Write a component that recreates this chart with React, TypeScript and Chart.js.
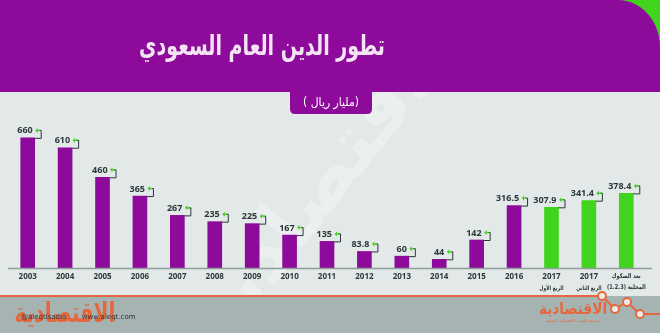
import React, { useEffect, useRef } from "react";
import { Chart, registerables } from "chart.js";

Chart.register(...registerables);

const categories: (string | string[])[] = [
  "2003", "2004", "2005", "2006", "2007", "2008", "2009", "2010", "2011",
  "2012", "2013", "2014", "2015", "2016",
  ["2017", "الربع الأول"],
  ["2017", "الربع الثاني"],
  ["بعد الصكوك", "المحلية (1.2.3)"],
];
const debtValues = [660, 610, 460, 365, 267, 235, 225, 167, 135, 83.8, 60, 44, 142, 316.5, 307.9, 341.4, 378.4];
const valueLabels = ["660", "610", "460", "365", "267", "235", "225", "167", "135", "83.8", "60", "44", "142", "316.5", "307.9", "341.4", "378.4"];
const isProjection = [false, false, false, false, false, false, false, false, false, false, false, false, false, false, true, true, true];

const titleText = "تطور الدين العام السعودي";
const unitText = "(مليار ريال )";
const logoText = "الاقتصادية";
const handleText = "@aleqtisadia       www.aleqt.com";
const logoSub = "صحيفة العرب الاقتصادية الدولية";

const PURPLE = "#8d0a9b";
const GREEN = "#41d41e";
const BG = "#e3e9e8";
const ORANGE = "#e6673b";
const DARK = "#2c3938";

function arabicText(ctx: CanvasRenderingContext2D, text: string, x: number, y: number, font: string, sx: number) {
  ctx.save();
  ctx.translate(x, y);
  ctx.scale(sx, 1);
  ctx.font = font;
  ctx.direction = "rtl";
  ctx.textAlign = "center";
  ctx.textBaseline = "middle";
  ctx.fillText(text, 0, 0);
  ctx.restore();
}

const backgroundPlugin = {
  id: "bgDecor",
  beforeDraw(chart: any) {
    const ctx = chart.ctx as CanvasRenderingContext2D;
    const W = chart.width;
    const H = chart.height;
    ctx.save();
    ctx.fillStyle = BG;
    ctx.fillRect(0, 0, W, H);

    // watermark
    ctx.save();
    ctx.translate(330, 180);
    ctx.rotate(-0.9);
    ctx.fillStyle = "rgba(255,255,255,0.3)";
    ctx.font = "bold 80px 'DejaVu Sans'";
    ctx.direction = "rtl";
    ctx.textAlign = "center";
    ctx.textBaseline = "middle";
    ctx.fillText(logoText, 0, 0);
    ctx.restore();

    // header
    ctx.fillStyle = GREEN;
    ctx.fillRect(600, 0, W - 600, 92);
    ctx.fillStyle = PURPLE;
    ctx.beginPath();
    ctx.moveTo(0, 0);
    ctx.lineTo(618, 0);
    ctx.bezierCurveTo(641, 0, W, 21, W, 47);
    ctx.lineTo(W, 92);
    ctx.lineTo(0, 92);
    ctx.closePath();
    ctx.fill();

    // pill
    ctx.beginPath();
    const px = 290, py = 90, pw = 82, ph = 24, r = 5;
    ctx.moveTo(px, py);
    ctx.lineTo(px + pw, py);
    ctx.lineTo(px + pw, py + ph - r);
    ctx.quadraticCurveTo(px + pw, py + ph, px + pw - r, py + ph);
    ctx.lineTo(px + r, py + ph);
    ctx.quadraticCurveTo(px, py + ph, px, py + ph - r);
    ctx.closePath();
    ctx.fill();

    ctx.fillStyle = "#f3e4f4";
    arabicText(ctx, titleText, 262, 48, "bold 28px 'DejaVu Sans'", 0.68);
    ctx.fillStyle = "#ffffff";
    arabicText(ctx, unitText, 331, 103, "12px 'DejaVu Sans'", 0.9);

    // footer
    ctx.fillStyle = "#a5b4b2";
    ctx.fillRect(0, 296, W, H - 296);
    ctx.strokeStyle = ORANGE;
    ctx.lineWidth = 2;
    ctx.beginPath();
    ctx.moveTo(0, 296);
    ctx.lineTo(602, 296);
    ctx.lineTo(615, 309);
    ctx.lineTo(627, 302);
    ctx.lineTo(640, 314);
    ctx.lineTo(W, 314);
    ctx.stroke();
    const pts = [[602, 296], [615, 309], [627, 302], [640, 314]];
    for (const [cx, cy] of pts) {
      ctx.beginPath();
      ctx.arc(cx, cy, 4, 0, Math.PI * 2);
      ctx.fillStyle = "#e9eceb";
      ctx.fill();
      ctx.stroke();
    }

    // left logo
    ctx.fillStyle = ORANGE;
    arabicText(ctx, logoText, 65, 315, "bold 28px 'DejaVu Sans'", 0.72);
    ctx.fillStyle = "#333";
    ctx.font = "7px 'DejaVu Sans'";
    ctx.textAlign = "left";
    ctx.textBaseline = "middle";
    ctx.fillText(handleText, 21, 317);

    // right logo
    ctx.fillStyle = ORANGE;
    arabicText(ctx, logoText, 573, 310, "bold 16px 'DejaVu Sans'", 0.85);
    arabicText(ctx, logoSub, 573, 321, "4px 'DejaVu Sans'", 1);
    ctx.restore();
  },
  afterDatasetsDraw(chart: any) {
    const ctx = chart.ctx as CanvasRenderingContext2D;
    const meta = chart.getDatasetMeta(0);
    const xScale = chart.scales.x;
    ctx.save();
    // axis line
    ctx.strokeStyle = "#8f9d9b";
    ctx.lineWidth = 1.5;
    ctx.beginPath();
    ctx.moveTo(8, xScale.top + 0.5);
    ctx.lineTo(652, xScale.top + 0.5);
    ctx.stroke();

    meta.data.forEach((bar: any, i: number) => {
      const right = bar.x + bar.width / 2;
      const top = bar.y;
      const ty = top - 7;
      ctx.fillStyle = DARK;
      ctx.font = "bold 9px 'Open Sans'";
      ctx.textAlign = "right";
      ctx.textBaseline = "middle";
      ctx.fillText(valueLabels[i], right - 2, ty);
      // dark bracket
      ctx.strokeStyle = DARK;
      ctx.lineWidth = 1;
      ctx.beginPath();
      ctx.moveTo(right + 4, ty - 0.5);
      ctx.lineTo(right + 6.5, ty - 0.5);
      ctx.lineTo(right + 6.5, top + 0.5);
      ctx.lineTo(right, top + 0.5);
      ctx.stroke();
      // green arrow
      ctx.strokeStyle = GREEN;
      ctx.fillStyle = GREEN;
      ctx.lineWidth = 1.3;
      ctx.beginPath();
      ctx.moveTo(right + 5, ty - 0.5);
      ctx.lineTo(right + 2, ty - 0.5);
      ctx.stroke();
      ctx.beginPath();
      ctx.moveTo(right + 0.5, ty - 0.5);
      ctx.lineTo(right + 3, ty - 3);
      ctx.lineTo(right + 3, ty + 2);
      ctx.closePath();
      ctx.fill();
    });

    // Arabic sub-lines of category labels (smaller type than the years)
    ctx.fillStyle = DARK;
    categories.forEach((c, i) => {
      if (!Array.isArray(c)) return;
      const x = xScale.getPixelForValue(i);
      if (c[0] === "2017") {
        arabicText(ctx, c[1], x, 288, "bold 6px 'DejaVu Sans'", 0.75);
      } else {
        arabicText(ctx, c[0], x, 276, "bold 6.5px 'DejaVu Sans'", 0.78);
        arabicText(ctx, c[1], x, 287, "bold 6.5px 'DejaVu Sans'", 0.78);
      }
    });
    ctx.restore();
  },
};

export default function App() {
  const ref = useRef<HTMLCanvasElement | null>(null);
  useEffect(() => {
    document.body.style.margin = "0";
    if (!ref.current) return;
    const chart = new Chart(ref.current, {
      type: "bar",
      data: {
        labels: categories,
        datasets: [
          {
            data: debtValues,
            backgroundColor: isProjection.map((p) => (p ? GREEN : PURPLE)),
            barThickness: 14,
            borderWidth: 0,
          },
        ],
      },
      options: {
        animation: false,
        responsive: false,
        maintainAspectRatio: false,
        devicePixelRatio: 1,
        layout: { padding: { top: 130, left: 9, right: 15, bottom: 0 } },
        plugins: {
          legend: { display: false },
          tooltip: { enabled: false },
          title: { display: false },
        },
        scales: {
          y: { display: false, min: 0, max: 700 },
          x: {
            offset: true,
            grid: { display: false, drawTicks: false },
            border: { display: false },
            ticks: {
              color: DARK,
              font: { size: 8, weight: "bold", family: "'Open Sans', 'DejaVu Sans'" },
              padding: 4,
              maxRotation: 0,
              autoSkip: false,
              callback: (_v: any, i: number) => {
                const c = categories[i];
                if (typeof c === "string") return c;
                return c[0] === "2017" ? c[0] : "";
              },
            },
            afterFit: (scale: any) => {
              scale.height = 65;
            },
          },
        },
      },
      plugins: [backgroundPlugin],
    });
    return () => chart.destroy();
  }, []);
  return (
    <div style={{ position: "fixed", left: 0, top: 0, width: 660, height: 333 }}>
      <canvas ref={ref} width={660} height={333} style={{ width: 660, height: 333, display: "block" }} />
    </div>
  );
}
